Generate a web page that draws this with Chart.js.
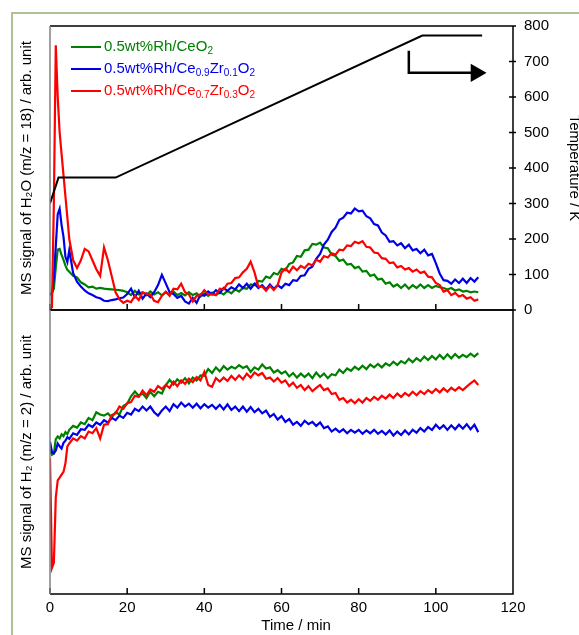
<!DOCTYPE html>
<html><head><meta charset="utf-8">
<script src="https://cdn.jsdelivr.net/npm/chart.js@4"></script>
<style>
html,body{margin:0;padding:0;background:#fff;width:579px;height:635px;overflow:hidden;position:relative;font-family:Arial,'Liberation Sans',sans-serif}
#frame{position:absolute;left:11px;top:12px;width:700px;height:800px;border:2px solid #abc294;box-sizing:border-box}
canvas{position:absolute;left:0;top:0}
.lg{position:absolute;left:71px;height:22px;line-height:22px;font-size:15px;white-space:nowrap}
.lg i{display:inline-block;width:30px;height:2px;vertical-align:middle;margin-right:3px}
.lg sub{font-size:10px;vertical-align:-3px;line-height:0}
</style></head>
<body>
<div id="frame"></div>
<canvas id="top" width="579" height="635"></canvas>
<canvas id="bot" width="579" height="635"></canvas>
<div class="lg" style="top:35px;color:#008000"><i style="background:#008000"></i>0.5wt%Rh/CeO<sub>2</sub></div>
<div class="lg" style="top:57px;color:#0000e6"><i style="background:#0000e6"></i>0.5wt%Rh/Ce<sub>0.9</sub>Zr<sub>0.1</sub>O<sub>2</sub></div>
<div class="lg" style="top:79px;color:#ff0000"><i style="background:#ff0000"></i>0.5wt%Rh/Ce<sub>0.7</sub>Zr<sub>0.3</sub>O<sub>2</sub></div>
<script>
// time axis (min): fine steps during the first minutes, then every minute
const timeMin=[0,0.5,1,1.5,2,2.5,3,3.5,4,4.5].concat(Array.from({length:107},(_,i)=>5+i));
const timeTicks=[0,20,40,60,80,100,120];
const tempTicks=[0,100,200,300,400,500,600,700,800];

// temperature program (K)
const tempTime=[0,2.2,17,96.5,112];
const tempK=[300,373,373,773,773];
// arrow pointing to the right-hand axis
const arrowTime=[93,93,110.4];
const arrowK=[730,668,668];

// H2O (m/z = 18), read on the 0-800 scale of the right axis
const h2oGreen=[47,48,60,120,170,172,155,141,125,113,
 108,96,92,78,72,64,66,60,62,60,
 59,58,57,56,54,50,42,54,44,50,
 42,52,44,50,41,50,43,52,42,48,
 41,50,42,47,38,47,40,49,42,50,
 44,54,47,58,52,62,60,72,70,82,
 80,94,90,104,100,116,112,130,134,152,
 150,168,170,186,184,190,176,174,156,152,
 138,142,128,130,118,122,108,110,96,100,
 86,88,74,78,66,72,62,72,60,70,
 62,72,62,70,62,68,64,62,58,62,
 55,58,52,54,50,52,50];
const h2oBlue=[42,45,90,180,270,285,240,206,150,135,
 169,104,80,66,55,47,42,36,33,26,
 25,28,30,33,35,45,60,36,54,32,
 46,36,50,70,99,75,50,45,34,40,
 24,18,34,20,44,40,52,44,56,48,
 62,54,64,58,72,62,74,60,74,62,
 70,58,72,60,70,62,74,70,84,82,
 96,98,116,122,144,158,184,198,220,232,
 254,260,274,272,286,278,280,264,258,242,
 238,218,210,192,194,182,188,174,184,168,
 172,160,170,154,158,132,103,84,82,74,
 86,76,88,76,90,80,92];
const h2oRed=[3,8,300,746,600,500,440,380,320,260,
 200,140,118,140,172,165,140,115,96,176,
 140,95,50,30,20,26,22,40,28,50,
 46,44,26,22,40,52,40,60,58,74,
 50,44,24,40,42,56,44,44,42,60,
 58,74,76,90,92,106,116,136,106,66,
 66,54,68,56,70,106,116,106,122,112,
 124,118,130,126,142,136,152,148,160,156,
 170,168,182,180,192,188,194,178,176,162,
 160,146,144,132,134,120,124,114,118,108,
 114,104,108,94,92,76,70,52,56,42,
 48,38,42,32,36,26,30];

// H2 (m/z = 2), arbitrary 0-1000 scale over the lower panel
const h2Green=[507,490,495,545,555,548,562,556,570,563,
 578,592,586,604,598,620,612,640,632,628,
 636,622,640,632,662,670,696,713,698,706,
 690,712,696,712,706,735,754,738,756,744,
 760,742,762,752,770,768,792,778,798,784,
 802,790,800,794,806,796,802,782,798,790,
 808,794,798,780,788,776,784,766,778,762,
 776,764,776,760,780,764,776,760,774,770,
 790,778,794,786,800,790,804,792,808,798,
 810,798,812,804,818,806,820,812,828,816,
 830,820,836,824,838,826,842,828,844,830,
 845,832,842,834,846,836,848];
const h2Blue=[536,500,495,505,530,520,512,532,540,552,
 546,566,560,580,578,596,588,604,596,612,
 604,620,612,628,620,638,632,652,644,660,
 646,660,640,628,646,660,644,668,656,674,
 660,670,656,670,654,668,656,666,652,666,
 650,668,648,660,644,660,642,658,640,652,
 636,646,624,634,614,626,606,616,596,606,
 592,610,598,606,592,604,584,590,572,582,
 570,580,566,578,568,578,564,576,566,578,
 564,574,562,576,558,572,560,576,562,578,
 568,584,572,588,578,596,582,594,578,594,
 580,596,582,598,580,596,570];
const h2Red=[479,92,110,340,400,410,420,430,460,520,
 530,548,540,556,548,572,566,584,548,596,
 598,630,636,660,652,672,676,698,694,716,
 700,720,712,732,722,736,726,748,732,752,
 740,758,746,764,752,782,736,730,760,748,
 762,750,768,754,770,756,776,762,780,770,
 778,758,762,748,760,744,752,732,744,726,
 736,718,732,714,726,736,718,724,704,708,
 684,690,674,684,672,686,674,690,680,694,
 684,698,688,702,690,706,694,708,698,712,
 700,714,704,718,708,722,710,724,712,726,
 716,728,718,730,742,752,736];

const C={green:'#008000',blue:'#0000e6',red:'#ff0000',black:'#000'};
Chart.defaults.font={family:"Arial, 'Liberation Sans', sans-serif",size:15};
Chart.defaults.color='#000';

const pts=(ts,vs)=>ts.map((t,i)=>({x:t,y:vs[i]}));
const line=(ts,vs,color,axis)=>({data:pts(ts,vs),borderColor:color,yAxisID:axis||'y'});

// box around the plot area, inward time ticks, crossing ticks on the temperature axis
const frame={id:'frame',afterDatasetsDraw(ch,args,o){
  const {ctx,chartArea:a,scales}=ch;
  ctx.save();ctx.lineWidth=1.5;
  ctx.strokeStyle='#000';ctx.beginPath();
  ctx.moveTo(a.left,a.top);ctx.lineTo(a.right,a.top);ctx.lineTo(a.right,a.bottom);ctx.lineTo(a.left,a.bottom);
  timeTicks.forEach(v=>{const px=scales.x.getPixelForValue(v);ctx.moveTo(px,a.bottom);ctx.lineTo(px,a.bottom-6);});
  if(o.right){const s=scales[o.right];tempTicks.forEach(v=>{const py=s.getPixelForValue(v);ctx.moveTo(a.right-4,py);ctx.lineTo(a.right+3,py);});}
  ctx.stroke();
  ctx.strokeStyle='#808080';ctx.beginPath();ctx.moveTo(a.left,a.top);ctx.lineTo(a.left,a.bottom);ctx.stroke();
  ctx.restore();
}};

const base={animation:false,responsive:false,
  elements:{line:{borderWidth:2.2,tension:0},point:{radius:0}},
  plugins:{legend:{display:false},tooltip:{enabled:false}}};

new Chart(document.getElementById('top'),{type:'line',
  data:{datasets:[
    {data:pts(tempTime,tempK),borderColor:C.black,borderWidth:2,yAxisID:'yT'},
    {data:pts(arrowTime,arrowK),borderColor:C.black,borderWidth:2.5,yAxisID:'yT',
     pointRadius:[0,0,8],pointStyle:'triangle',rotation:90,pointBackgroundColor:C.black,pointBorderColor:C.black},
    line(timeMin,h2oRed,C.red),
    line(timeMin,h2oBlue,C.blue),
    line(timeMin,h2oGreen,C.green)
  ]},
  options:{...base,
    layout:{padding:{top:26,bottom:325,left:0,right:0}},
    plugins:{...base.plugins,frame:{right:'yT'}},
    scales:{
      x:{type:'linear',min:0,max:120,ticks:{display:false},grid:{display:false},border:{display:false},afterFit:s=>{s.height=0;}},
      y:{position:'left',min:0,max:800,ticks:{display:false},grid:{display:false},border:{display:false},
         title:{display:true,text:'MS signal of H₂O (m/z = 18) / arb. unit',padding:{top:18,bottom:0}},afterFit:s=>{s.width=50;}},
      yT:{position:'right',min:0,max:800,ticks:{stepSize:100,padding:11},grid:{display:false,drawTicks:false},border:{display:false},
         title:{display:true,text:'Temperature / K',padding:{top:-4,bottom:0}},afterFit:s=>{s.width=66;}}
    }},
  plugins:[frame]});

new Chart(document.getElementById('bot'),{type:'line',
  data:{datasets:[
    line(timeMin,h2Red,C.red),
    line(timeMin,h2Blue,C.blue),
    line(timeMin,h2Green,C.green)
  ]},
  options:{...base,
    layout:{padding:{top:310,bottom:0,left:0,right:66}},
    plugins:{...base.plugins,frame:{}},
    scales:{
      x:{type:'linear',min:0,max:120,ticks:{stepSize:20,padding:5,maxRotation:0},grid:{display:false,drawTicks:false},border:{display:false},
         title:{display:true,text:'       Time / min',padding:{top:0,bottom:0}},afterFit:s=>{s.height=41;}},
      y:{min:0,max:1000,ticks:{display:false},grid:{display:false},border:{display:false},
         title:{display:true,text:'MS signal of H₂ (m/z = 2) / arb. unit',padding:{top:18,bottom:0}},afterFit:s=>{s.width=50;}}
    }},
  plugins:[frame]});
</script>
</body></html>
